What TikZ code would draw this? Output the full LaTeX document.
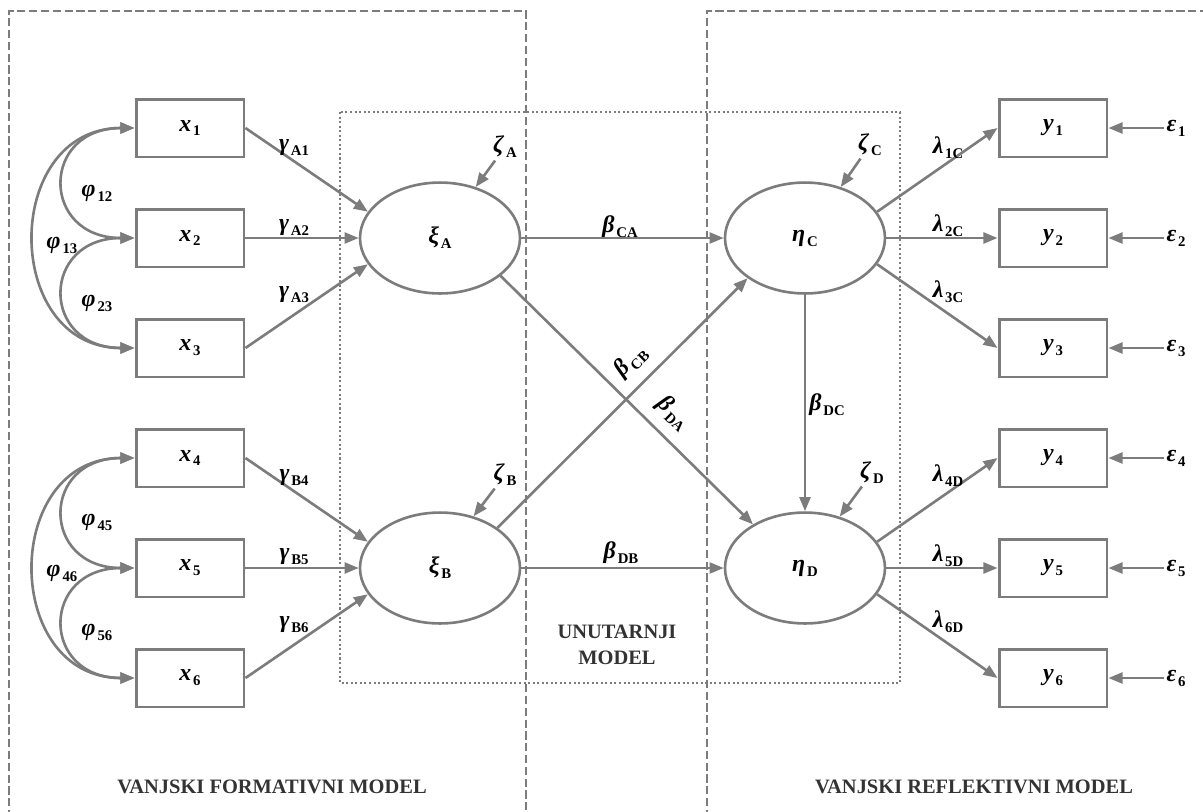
\documentclass[tikz,border=0pt]{standalone}
\usepackage{amsmath}
\usepackage{amssymb}
\usepackage{fontspec}
\setmainfont{Liberation Serif}
\usetikzlibrary{arrows.meta,shapes.geometric}
\definecolor{linegray}{HTML}{7C7C7C}
\definecolor{textgray}{HTML}{333333}
\newcommand{\bsym}[2]{\textbf{\textit{#1}}\kern0.8pt\raisebox{-0.45ex}{\fontsize{6.5}{7}\selectfont\bfseries #2}}

\begin{document}
\begin{tikzpicture}[x=0.44pt,y=-0.44pt,
    every node/.style={font=\fontsize{10.5}{12}\selectfont},
    conn/.style={draw=linegray,line width=1.15pt},
    arr/.style={conn,-{Triangle[length=6.2pt,width=4.8pt]}},
    cov/.style={conn,{Triangle[length=6.2pt,width=4.8pt]}-{Triangle[length=6.2pt,width=4.8pt]}},
    obs/.style={draw=linegray,line width=1.3pt,rectangle,fill=white,
        minimum width=47.5pt,minimum height=25.5pt,inner sep=0pt},
    lat/.style={draw=linegray,line width=1.15pt,ellipse,fill=white,
        minimum width=70.4pt,minimum height=48.8pt,inner sep=0pt},
    lbl/.style={inner sep=1pt},
    part/.style={font=\fontsize{9}{11.4}\selectfont\bfseries,text=textgray,align=center},
    dashbox/.style={draw=linegray,line width=0.9pt,dash pattern=on 3.6pt off 1.6pt},
    dotbox/.style={draw=linegray,line width=0.9pt,dash pattern=on 0.9pt off 1.1pt}]
    \useasboundingbox (0,0) rectangle (1203,812);

    \draw[dashbox] (9,830) -- (9,11) -- (526,11) -- (526,830);
    \draw[dashbox] (1220,11) -- (707,11) -- (707,830);
    \draw[dotbox] (340,112) rectangle (900,683);

    \node[obs] (x1) at (190,128) {\bsym{x}{1}};
    \node[obs] (x2) at (190,238) {\bsym{x}{2}};
    \node[obs] (x3) at (190,348) {\bsym{x}{3}};
    \node[obs] (x4) at (190,458) {\bsym{x}{4}};
    \node[obs] (x5) at (190,568) {\bsym{x}{5}};
    \node[obs] (x6) at (190,678) {\bsym{x}{6}};

    \node[obs] (y1) at (1053,128) {\bsym{y}{1}};
    \node[obs] (y2) at (1053,238) {\bsym{y}{2}};
    \node[obs] (y3) at (1053,348) {\bsym{y}{3}};
    \node[obs] (y4) at (1053,458) {\bsym{y}{4}};
    \node[obs] (y5) at (1053,568) {\bsym{y}{5}};
    \node[obs] (y6) at (1053,678) {\bsym{y}{6}};

    \node[lat] (xiA) at (440,238) {\bsym{ξ}{A}};
    \node[lat] (xiB) at (440,568) {\bsym{ξ}{B}};
    \node[lat] (etaC) at (805,238) {\bsym{η}{C}};
    \node[lat] (etaD) at (805,568) {\bsym{η}{D}};

    \node[lbl] (zetaA) at (505,147) {\bsym{ζ}{A}};
    \node[lbl] (zetaB) at (505,475) {\bsym{ζ}{B}};
    \node[lbl] (zetaC) at (870,145) {\bsym{ζ}{C}};
    \node[lbl] (zetaD) at (872,473) {\bsym{ζ}{D}};

    \node[lbl] (eps1) at (1176,128) {\bsym{ε}{1}};
    \node[lbl] (eps2) at (1176,238) {\bsym{ε}{2}};
    \node[lbl] (eps3) at (1176,348) {\bsym{ε}{3}};
    \node[lbl] (eps4) at (1176,458) {\bsym{ε}{4}};
    \node[lbl] (eps5) at (1176,568) {\bsym{ε}{5}};
    \node[lbl] (eps6) at (1176,678) {\bsym{ε}{6}};

    \draw[cov] (x1.west) to[out=180,in=180,looseness=2.2] (x2.west);
    \draw[cov] (x2.west) to[out=180,in=180,looseness=2.2] (x3.west);
    \draw[cov] (x1.west) to[out=180,in=180,looseness=1.55] (x3.west);
    \draw[cov] (x4.west) to[out=180,in=180,looseness=2.2] (x5.west);
    \draw[cov] (x5.west) to[out=180,in=180,looseness=2.2] (x6.west);
    \draw[cov] (x4.west) to[out=180,in=180,looseness=1.55] (x6.west);
    \node[lbl] (phi12) at (97,193) {\bsym{φ}{12}};
    \node[lbl] (phi13) at (62,245) {\bsym{φ}{13}};
    \node[lbl] (phi23) at (97,303) {\bsym{φ}{23}};
    \node[lbl] (phi45) at (97,522) {\bsym{φ}{45}};
    \node[lbl] (phi46) at (62,573) {\bsym{φ}{46}};
    \node[lbl] (phi56) at (97,632) {\bsym{φ}{56}};

    \draw[arr] (x1.east) -- (xiA.160);
    \draw[arr] (x2.east) -- (xiA.west);
    \draw[arr] (x3.east) -- (xiA.200);
    \draw[arr] (x4.east) -- (xiB.160);
    \draw[arr] (x5.east) -- (xiB.west);
    \draw[arr] (x6.east) -- (xiB.200);
    \node[lbl] (gA1) at (294,148) {\bsym{γ}{A1}};
    \node[lbl] (gA2) at (294,228) {\bsym{γ}{A2}};
    \node[lbl] (gA3) at (294,295) {\bsym{γ}{A3}};
    \node[lbl] (gB4) at (294,478) {\bsym{γ}{B4}};
    \node[lbl] (gB5) at (294,557) {\bsym{γ}{B5}};
    \node[lbl] (gB6) at (294,625) {\bsym{γ}{B6}};

    \draw[arr] (zetaA) -- (xiA.55);
    \draw[arr] (zetaB) -- (xiB.57);
    \draw[arr] (zetaC) -- (etaC.55);
    \draw[arr] (zetaD) -- (etaD.56);

    \draw[arr] (xiA.east) -- (etaC.west);
    \draw[arr] (xiB.east) -- (etaD.west);
    \draw[arr] (xiA.-32) -- node[lbl,sloped,above=4pt,pos=0.62] (bDA) {\bsym{β}{DA}} (etaD.140);
    \draw[arr] (xiB.35) -- node[lbl,sloped,above=4pt,pos=0.6] (bCB) {\bsym{β}{CB}} (etaC.215);
    \draw[arr] (etaC.south) -- (etaD.north);
    \node[lbl] (bCA) at (620,227) {\bsym{β}{CA}};
    \node[lbl] (bDB) at (621,553) {\bsym{β}{DB}};
    \node[lbl] (bDC) at (827,405) {\bsym{β}{DC}};

    \draw[arr] (etaC.20) -- (y1.west);
    \draw[arr] (etaC.east) -- (y2.west);
    \draw[arr] (etaC.-20) -- (y3.west);
    \draw[arr] (etaD.20) -- (y4.west);
    \draw[arr] (etaD.east) -- (y5.west);
    \draw[arr] (etaD.-20) -- (y6.west);
    \node[lbl] (l1C) at (948,148) {\bsym{λ}{1C}};
    \node[lbl] (l2C) at (948,226) {\bsym{λ}{2C}};
    \node[lbl] (l3C) at (948,292) {\bsym{λ}{3C}};
    \node[lbl] (l4D) at (948,476) {\bsym{λ}{4D}};
    \node[lbl] (l5D) at (948,556) {\bsym{λ}{5D}};
    \node[lbl] (l6D) at (948,622) {\bsym{λ}{6D}};

    \draw[arr] (eps1) -- (y1.east);
    \draw[arr] (eps2) -- (y2.east);
    \draw[arr] (eps3) -- (y3.east);
    \draw[arr] (eps4) -- (y4.east);
    \draw[arr] (eps5) -- (y5.east);
    \draw[arr] (eps6) -- (y6.east);

    \node[part] (inner) at (617,645) {UNUTARNJI\\MODEL};
    \node[part] (formative) at (272,787) {VANJSKI FORMATIVNI MODEL};
    \node[part] (reflective) at (974,787) {VANJSKI REFLEKTIVNI MODEL};
\end{tikzpicture}
\end{document}
